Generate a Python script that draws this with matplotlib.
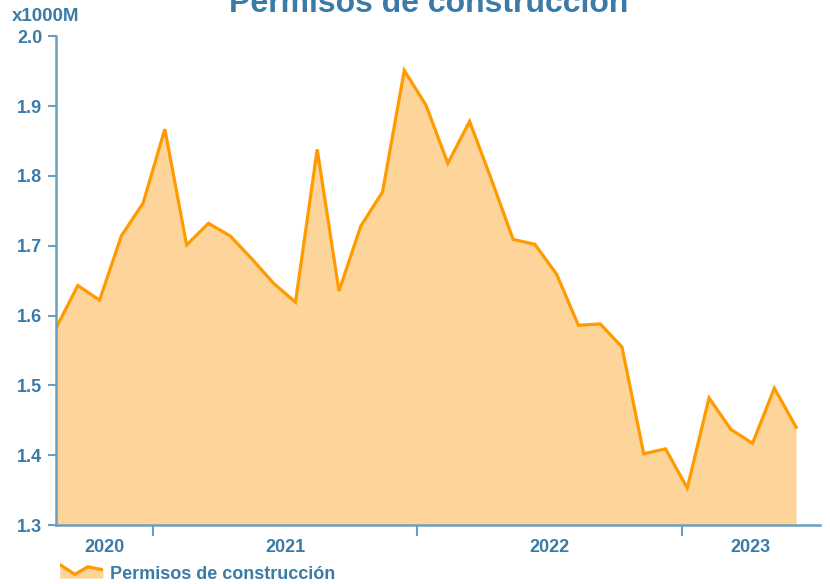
import numpy as np
import matplotlib.pyplot as plt

# Permisos de construcción, mensual (ago 2020 - jun 2023), en miles de millones
valores = [1.582, 1.643, 1.622, 1.714, 1.761, 1.867, 1.701, 1.732, 1.714, 1.681,
           1.646, 1.619, 1.838, 1.635, 1.728, 1.777, 1.951, 1.901, 1.818, 1.878,
           1.795, 1.709, 1.702, 1.659, 1.586, 1.588, 1.555, 1.402, 1.409, 1.353,
           1.482, 1.437, 1.417, 1.496, 1.440]
anios = ["2020", "2021", "2022", "2023"]
# posición (en meses) de los cambios de año
cortes = [4.45, 16.6, 28.75]

azul = "#3b7ba8"
eje = "#6a9fc0"
naranja = "#ff9a00"
relleno = "#fdd59b"

plt.rcParams['font.family'] = ['Liberation Sans', 'DejaVu Sans']
plt.rcParams['font.weight'] = 'bold'

x = np.arange(len(valores))
fig = plt.figure(figsize=(8.3, 5.84), dpi=100)
ax = fig.add_axes([0.0675, 0.101, 0.9205, 0.837])

ax.fill_between(x, valores, 1.3, color=relleno, lw=0)
ax.plot(x, valores, color=naranja, lw=2.3, solid_joinstyle='miter')

ax.set_xlim(0, 35.1)
ax.set_ylim(1.3, 2.0)
ax.set_yticks(np.arange(1.3, 2.01, 0.1))
ax.set_yticklabels([f"{v:.1f}" for v in np.arange(1.3, 2.01, 0.1)])
ax.tick_params(axis='y', colors=eje, labelcolor=azul, labelsize=13, length=6, width=1.5, pad=4)

ax.set_xticks(cortes)
ax.set_xticklabels([])
ax.tick_params(axis='x', colors=eje, length=8, width=1.5)
limites = [0] + cortes + [35.1]
for i, a in enumerate(anios):
    ax.text((limites[i] + limites[i + 1]) / 2, -0.045, a, transform=ax.get_xaxis_transform(),
            ha='center', va='center', color=azul, fontsize=13, fontweight='bold')

for s in ['top', 'right']:
    ax.spines[s].set_visible(False)
for s in ['left', 'bottom']:
    ax.spines[s].set_color(eje)
    ax.spines[s].set_linewidth(1.8)

fig.text(0.516, 0.993, "Permisos de construcción", ha='center', va='center',
         color=azul, fontsize=23, fontweight='bold')
fig.text(0.014, 0.972, "x1000M", ha='left', va='center', color=azul, fontsize=13.5, fontweight='bold')

# leyenda
ley = fig.add_axes([0.072, 0.01, 0.052, 0.026])
lx = [0, 0.35, 0.65, 1]
ly = [0.9, 0.25, 0.75, 0.55]
ley.fill_between(lx, ly, 0, color=relleno, lw=0)
ley.plot(lx, ly, color=naranja, lw=2.3)
ley.set_xlim(0, 1)
ley.set_ylim(0, 1)
ley.axis('off')
fig.text(0.132, 0.016, "Permisos de construcción", ha='left', va='center',
         color=azul, fontsize=13, fontweight='bold')

fig.savefig("out.png", dpi=100)
